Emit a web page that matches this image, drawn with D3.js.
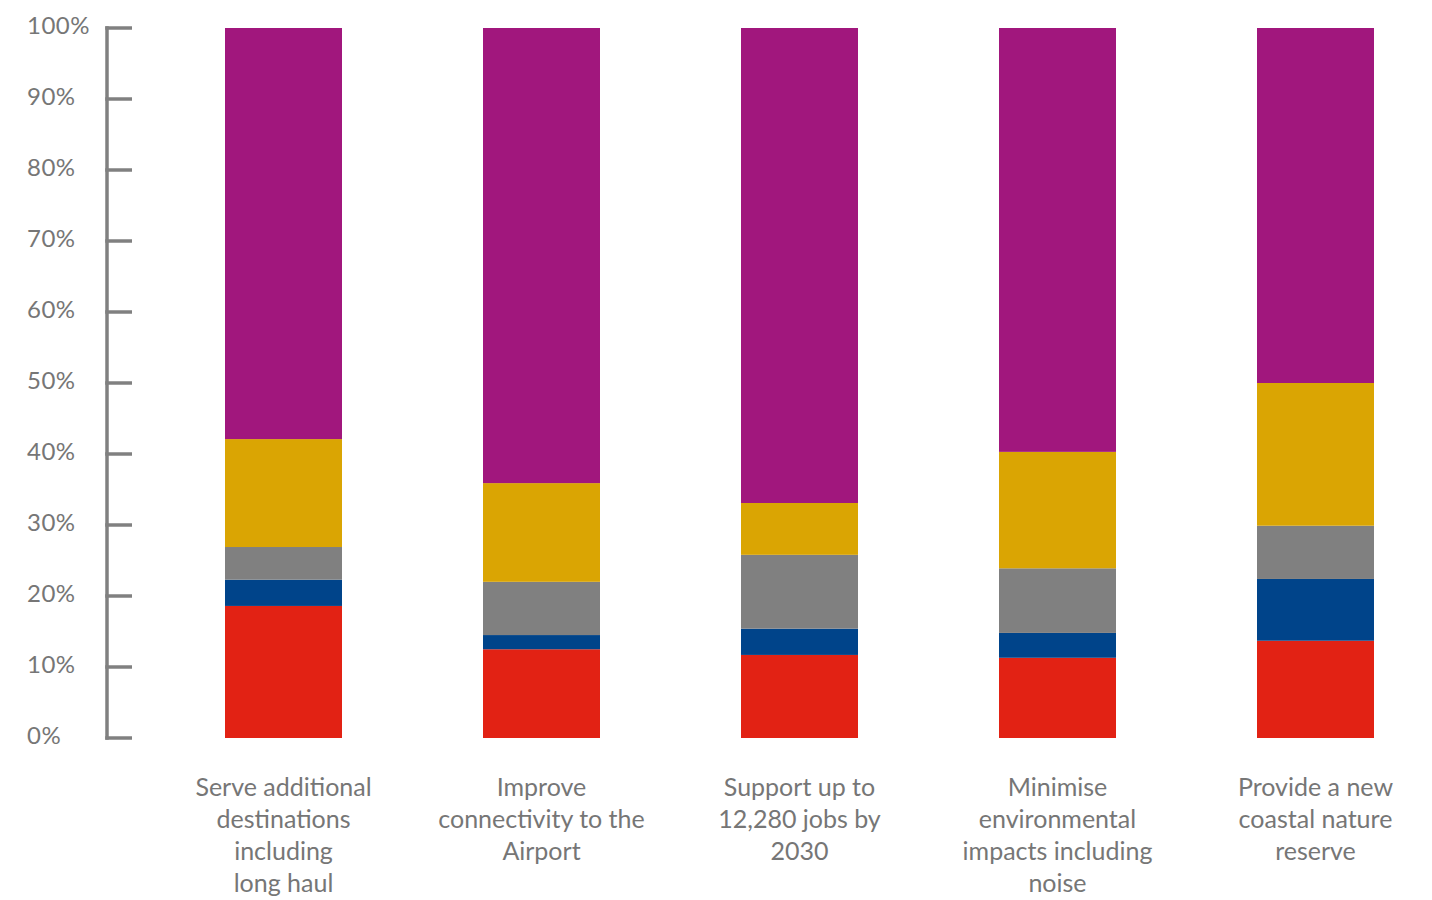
<!DOCTYPE html>
<html>
<head>
<meta charset="utf-8">
<script src="https://cdn.jsdelivr.net/npm/d3@7"></script>
<style>
  html, body { margin: 0; padding: 0; background: #fff; }
  svg { display: block; }
  text { font-family: Lato, "Open Sans", sans-serif; fill: #767676; }
</style>
</head>
<body>
<svg id="chart" width="1432" height="900"></svg>
<script>
// Objectives (each category label split into its display lines)
const categories = [
  ["Serve additional", "destinations", "including", "long haul"],
  ["Improve", "connectivity to the", "Airport"],
  ["Support up to", "12,280 jobs by", "2030"],
  ["Minimise", "environmental", "impacts including", "noise"],
  ["Provide a new", "coastal nature", "reserve"]
];

// Response shares per objective (percent), stacked bottom to top
const seriesRed    = [18.6, 12.5, 11.7, 11.3, 13.7];
const seriesBlue   = [3.7, 2.0, 3.7, 3.5, 8.7];
const seriesGrey   = [4.6, 7.5, 10.4, 9.1, 7.5];
const seriesYellow = [15.2, 13.9, 7.3, 16.4, 20.1];
const seriesPurple = [57.9, 64.1, 66.9, 59.7, 50.0];

const yTicks = [0, 10, 20, 30, 40, 50, 60, 70, 80, 90, 100];

const seriesKeys = ["red", "blue", "grey", "yellow", "purple"];
const seriesColors = ["#E22214", "#00448A", "#808080", "#DAA503", "#A1177D"];

const rows = categories.map((c, i) => ({
  id: i,
  red: seriesRed[i],
  blue: seriesBlue[i],
  grey: seriesGrey[i],
  yellow: seriesYellow[i],
  purple: seriesPurple[i]
}));

const svg = d3.select("#chart");

const x = d3.scaleBand()
  .domain(rows.map(d => d.id))
  .range([154.5, 1444.5])
  .paddingInner(0.5465)
  .paddingOuter(0.2733);

const y = d3.scaleLinear().domain([0, 100]).range([738, 28]);

const color = d3.scaleOrdinal().domain(seriesKeys).range(seriesColors);

const stack = d3.stack().keys(seriesKeys);
const layers = stack(rows);

// Stacked bars
svg.append("g")
  .selectAll("g")
  .data(layers)
  .join("g")
  .attr("fill", d => color(d.key))
  .selectAll("rect")
  .data(d => d)
  .join("rect")
  .attr("x", d => Math.round(x(d.data.id)))
  .attr("width", Math.round(x.bandwidth()))
  .attr("y", d => y(Math.min(d[1], 100)))
  .attr("height", d => y(d[0]) - y(Math.min(d[1], 100)));

// Y axis: spine with ticks pointing right, labels at left
const axisX = 107;
const axis = svg.append("g").attr("transform", `translate(${axisX},0)`);
axis.append("line")
  .attr("x1", 0).attr("x2", 0)
  .attr("y1", y(100) - 1.75).attr("y2", y(0) + 1.75)
  .attr("stroke", "#808080").attr("stroke-width", 3.5);
axis.selectAll("line.tick")
  .data(yTicks)
  .join("line")
  .attr("class", "tick")
  .attr("x1", -1.75).attr("x2", 25)
  .attr("y1", d => y(d)).attr("y2", d => y(d))
  .attr("stroke", "#808080").attr("stroke-width", 3.5);

svg.append("g")
  .selectAll("text")
  .data(yTicks)
  .join("text")
  .attr("x", 27)
  .attr("y", d => y(d) - 2)
  .attr("dy", "0.35em")
  .attr("font-size", 24)
  .attr("letter-spacing", 0.5)
  .text(d => d + "%");

// Category labels under each bar
const labels = svg.append("g")
  .selectAll("text")
  .data(rows)
  .join("text")
  .attr("text-anchor", "middle")
  .attr("font-size", 25)
  .attr("x", d => x(d.id) + x.bandwidth() / 2)
  .attr("y", 796);

labels.selectAll("tspan")
  .data(d => categories[d.id].map(line => ({ line, cx: x(d.id) + x.bandwidth() / 2 })))
  .join("tspan")
  .attr("x", d => d.cx)
  .attr("dy", (d, i) => i === 0 ? 0 : 32)
  .text(d => d.line);
</script>
</body>
</html>
